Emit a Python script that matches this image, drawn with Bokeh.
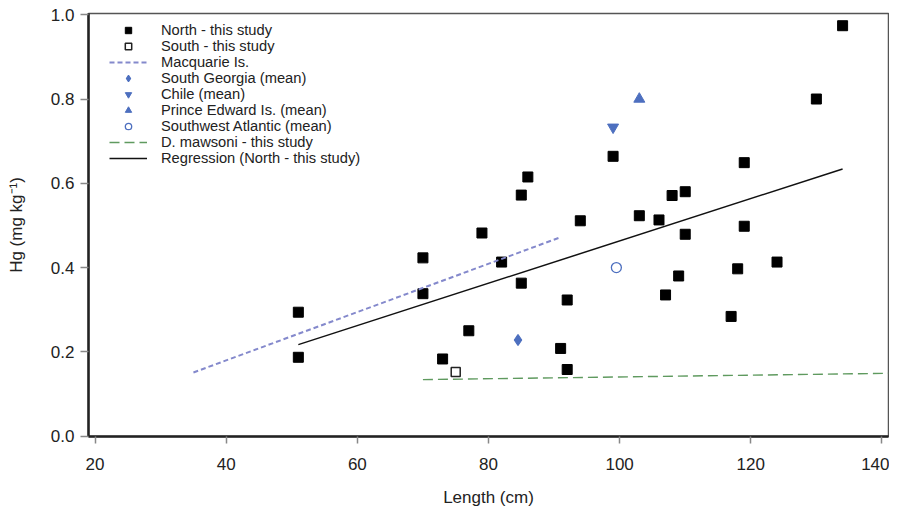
from bokeh.plotting import figure
from bokeh.models import Range1d, FixedTicker, NumeralTickFormatter, Legend, LegendItem
from bokeh.embed import file_html
from bokeh.resources import INLINE

# ---- data ----
north_len = [51, 51, 70, 70, 73, 77, 79, 82, 85, 85, 86, 91, 92, 92, 94, 99,
             103, 106, 107, 108, 109, 110, 110, 117, 118, 119, 119, 124, 130, 134]
north_hg = [0.294, 0.187, 0.423, 0.338, 0.183, 0.250, 0.482, 0.413, 0.572, 0.363,
            0.615, 0.208, 0.323, 0.158, 0.511, 0.664, 0.523, 0.513, 0.335, 0.571,
            0.380, 0.580, 0.479, 0.284, 0.397, 0.649, 0.498, 0.413, 0.800, 0.974]
south_len = [75]
south_hg = [0.152]
macq_len = [35, 91]
macq_hg = [0.151, 0.472]
sgeorgia_len = [84.5]
sgeorgia_hg = [0.228]
chile_len = [99]
chile_hg = [0.733]
pei_len = [103]
pei_hg = [0.80]
swatl_len = [99.5]
swatl_hg = [0.400]
mawsoni_len = [70, 141]
mawsoni_hg = [0.134, 0.149]
reg_len = [51, 134]
reg_hg = [0.217, 0.634]

x_ticks = [20, 40, 60, 80, 100, 120, 140]
y_ticks = [0.0, 0.2, 0.4, 0.6, 0.8, 1.0]

FONT = "Liberation Sans"
BLUE = "#4d6fbf"

p = figure(width=889, height=509, output_backend="svg", toolbar_location=None,
           x_range=Range1d(19, 141), y_range=Range1d(-0.001, 1.003),
           min_border_left=88, min_border_right=1, min_border_top=13, min_border_bottom=71,
           x_axis_label="Length (cm)", y_axis_label="Hg (mg kg\u207b\u00b9)")

p.xgrid.visible = False
p.ygrid.visible = False
p.outline_line_color = "#555555"
p.outline_line_width = 1.5
p.background_fill_color = "white"
p.border_fill_color = "white"

for ax in (p.xaxis[0], p.yaxis[0]):
    ax.axis_line_color = "#222222"
    ax.axis_line_width = 2.5
    ax.major_tick_line_color = "#888888"
    ax.major_tick_line_width = 1.5
    ax.major_tick_in = 0
    ax.minor_tick_line_color = None
    ax.major_label_text_font = FONT
    ax.major_label_text_font_size = "17px"
    ax.major_label_text_color = "#222222"
    ax.axis_label_text_font = FONT
    ax.axis_label_text_font_size = "17px"
    ax.axis_label_text_font_style = "normal"
    ax.axis_label_text_color = "#222222"

p.xaxis.ticker = FixedTicker(ticks=x_ticks)
p.yaxis.ticker = FixedTicker(ticks=y_ticks)
p.yaxis.formatter = NumeralTickFormatter(format="0.0")
p.xaxis.major_tick_out = 7
p.yaxis.major_tick_out = 8
p.xaxis.major_label_standoff = 14
p.yaxis.major_label_standoff = 6
p.xaxis.axis_label_standoff = 15
p.yaxis.axis_label_standoff = 22

r_north = p.scatter(north_len, north_hg, marker="square", size=10,
                    fill_color="black", line_color="black")
r_south = p.scatter(south_len, south_hg, marker="square", size=9,
                    fill_color="white", line_color="#222222", line_width=1.5)
r_macq = p.line(macq_len, macq_hg, line_color="#8489cc", line_width=2, line_dash="5 3")
r_sg = p.scatter(sgeorgia_len, sgeorgia_hg, marker="diamond", size=11,
                 fill_color=BLUE, line_color=BLUE, line_width=1.2)
r_chile = p.scatter(chile_len, chile_hg, marker="inverted_triangle", size=11,
                    fill_color=BLUE, line_color=BLUE)
r_pei = p.scatter(pei_len, pei_hg, marker="triangle", size=11,
                  fill_color=BLUE, line_color=BLUE)
r_swa = p.scatter(swatl_len, swatl_hg, marker="circle", size=10,
                  fill_color="white", line_color=BLUE, line_width=1.3)
r_maw = p.line(mawsoni_len, mawsoni_hg, line_color="#5f9a5f", line_width=1.4, line_dash="10 5")
r_reg = p.line(reg_len, reg_hg, line_color="#111111", line_width=1.5)

items = [
    LegendItem(label="North - this study", renderers=[r_north]),
    LegendItem(label="South - this study", renderers=[r_south]),
    LegendItem(label="Macquarie Is.", renderers=[r_macq]),
    LegendItem(label="South Georgia (mean)", renderers=[r_sg]),
    LegendItem(label="Chile (mean)", renderers=[r_chile]),
    LegendItem(label="Prince Edward Is. (mean)", renderers=[r_pei]),
    LegendItem(label="Southwest Atlantic (mean)", renderers=[r_swa]),
    LegendItem(label="D. mawsoni - this study", renderers=[r_maw]),
    LegendItem(label="Regression (North - this study)", renderers=[r_reg]),
]
legend = Legend(items=items, location=(21, 270), padding=0, margin=0, spacing=0,
                border_line_color=None, background_fill_alpha=0,
                glyph_width=38, glyph_height=16, label_height=16, label_standoff=14,
                label_text_font=FONT, label_text_font_size="14.7px",
                label_text_color="#222222")
p.add_layout(legend)

open("out.html", "w").write(file_html(p, INLINE))
